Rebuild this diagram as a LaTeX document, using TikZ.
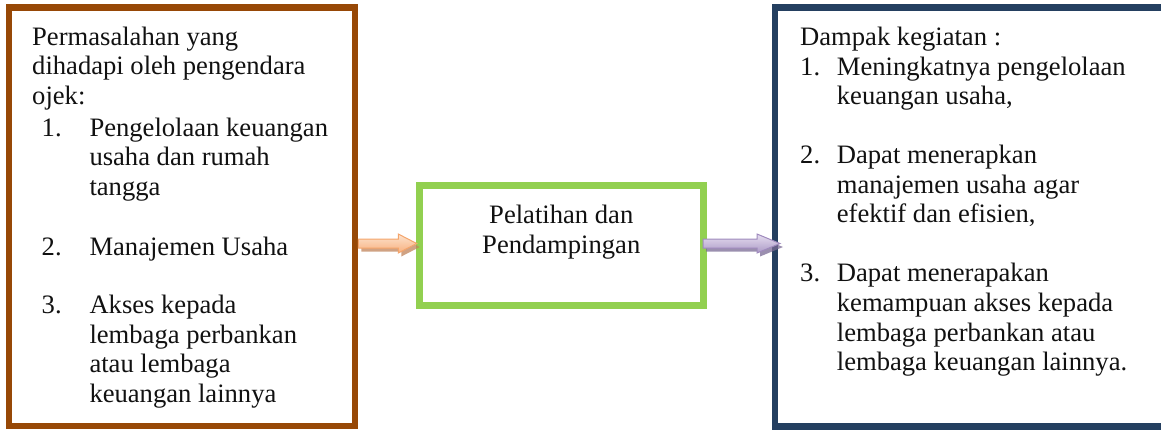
\documentclass[tikz,border=0pt]{standalone}
\usepackage{fontspec}
\setmainfont{Liberation Serif}
\usetikzlibrary{calc}

\definecolor{boxbrown}{HTML}{974806}
\definecolor{boxgreen}{HTML}{92D050}
\definecolor{boxnavy}{HTML}{243F60}
\definecolor{textblack}{HTML}{111111}
\definecolor{peachlight}{HTML}{FDE3CE}
\definecolor{peachdark}{HTML}{F7B07E}
\definecolor{peachedge}{HTML}{F4A56C}
\definecolor{peachshadow}{HTML}{C0835A}
\definecolor{lilaclight}{HTML}{E6DEF0}
\definecolor{lilacdark}{HTML}{AC9AC6}
\definecolor{lilacedge}{HTML}{9F8ABD}
\definecolor{lilacshadow}{HTML}{7A6A94}

% block arrow from coordinate #1 to coordinate #2, head length #3, style #4
\newcommand{\flowarrow}[4]{%
  \path[#4] ($(#1)+(0,-4.5)$) -- ($(#2)+(-#3,-4.5)$) -- ($(#2)+(-#3,-9.5)$)
    -- (#2) -- ($(#2)+(-#3,9.5)$) -- ($(#2)+(-#3,4.5)$) -- ($(#1)+(0,4.5)$) -- cycle;}

\begin{document}
\begin{tikzpicture}[x=1pt,y=-1pt,
  frame/.style={draw, rectangle, inner sep=0pt, line width=6.5pt},
  txt/.style={anchor=base west, inner sep=0pt, text=textblack,
    font=\fontsize{26.6}{29.6}\selectfont},
  ctxt/.style={txt, anchor=base}]
\useasboundingbox (0,0) rectangle (1161,429);

% the three boxes; the right one is open towards the right edge
\node[frame, draw=boxbrown, minimum width=346pt, minimum height=418.5pt]
  (L) at (182,216.75) {};
\node[frame, draw=boxgreen, line width=7pt, minimum width=283.5pt, minimum height=120.2pt]
  (C) at (561.25,245.4) {};
\node[rectangle, inner sep=0pt, minimum width=386pt, minimum height=419pt]
  (R) at (968,217) {};
\draw[boxnavy, line width=6.5pt] (R.north east) -- (R.north west)
  -- (R.south west) -- (R.south east);

% problems
\node[txt] (l1) at (32,45) {Permasalahan yang};
\node[txt] (l2) at (32,74.6) {dihadapi oleh pengendara};
\node[txt] (l3) at (32,104.2) {ojek:};
\node[txt] (ln1) at (41.5,136) {1.};
\node[txt] (l4) at (89.3,136) {Pengelolaan keuangan};
\node[txt] (l5) at (89.3,165.6) {usaha dan rumah};
\node[txt] (l6) at (89.3,195.2) {tangga};
\node[txt] (ln2) at (41.5,255) {2.};
\node[txt] (l7) at (89.3,255) {Manajemen Usaha};
\node[txt] (ln3) at (41.5,313.6) {3.};
\node[txt] (l8) at (89.3,313.6) {Akses kepada};
\node[txt] (l9) at (89.3,343.2) {lembaga perbankan};
\node[txt] (l10) at (89.3,372.8) {atau lembaga};
\node[txt] (l11) at (89.3,402.4) {keuangan lainnya};

% activity
\node[ctxt] (c1) at (561.25,223.3) {Pelatihan dan};
\node[ctxt] (c2) at (561.25,253.3) {Pendampingan};

% impact
\node[txt] (r1) at (800,45.7) {Dampak kegiatan :};
\node[txt] (rn1) at (800,75.2) {1.};
\node[txt] (r2) at (836.7,75.2) {Meningkatnya pengelolaan};
\node[txt] (r3) at (836.7,104.8) {keuangan usaha,};
\node[txt] (rn2) at (800,163.7) {2.};
\node[txt] (r4) at (836.7,163.7) {Dapat menerapkan};
\node[txt] (r5) at (836.7,193.3) {manajemen usaha agar};
\node[txt] (r6) at (836.7,222.9) {efektif dan efisien,};
\node[txt] (rn3) at (800,281.9) {3.};
\node[txt] (r7) at (836.7,281.9) {Dapat menerapakan};
\node[txt] (r8) at (836.7,311.5) {kemampuan akses kepada};
\node[txt] (r9) at (836.7,341.1) {lembaga perbankan atau};
\node[txt] (r10) at (836.7,370.7) {lembaga keuangan lainnya.};

% arrows between the boxes
\coordinate (a1s) at (L.east |- 0,243.5);
\coordinate (a1e) at (416.7,243.5);
\coordinate (a2s) at (703,243.5);
\coordinate (a2e) at (780,243.5);

\begin{scope}[transform canvas={shift={(3pt,-3.5pt)}}]
  \flowarrow{a1s}{a1e}{18.4}{fill=peachshadow, fill opacity=.75}
  \flowarrow{a2s}{a2e}{23}{fill=lilacshadow, fill opacity=.75}
\end{scope}
\flowarrow{a1s}{a1e}{18.4}{draw=peachedge, line width=1pt, top color=peachlight, bottom color=peachdark}
\flowarrow{a2s}{a2e}{23}{draw=lilacedge, line width=1pt, top color=lilaclight, bottom color=lilacdark}
\end{tikzpicture}
\end{document}
